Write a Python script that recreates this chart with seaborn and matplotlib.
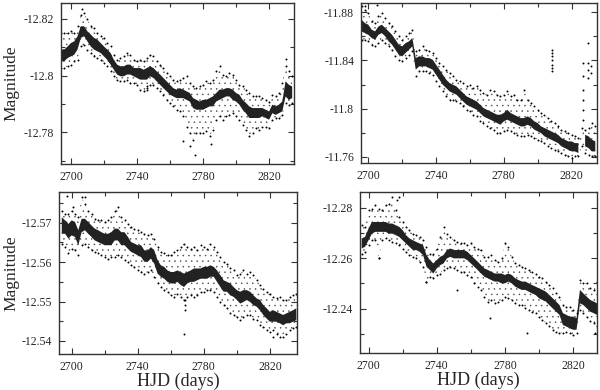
import numpy as np
import pandas as pd
import matplotlib
matplotlib.use("Agg")
import matplotlib.pyplot as plt
import seaborn as sns
from matplotlib.ticker import FixedLocator, MultipleLocator

# --- values (2-day sampling of the light curves) ---
# each panel: dense core band (top/bottom) and looser scatter envelope (top/bottom)

days_tl = list(range(2694, 2836, 2))
core_top_tl = [-12.8092, -12.8092, -12.8103, -12.8115, -12.8121, -12.8139, -12.8174, -12.8174, -12.8156, -12.8145,
               -12.8133, -12.8127, -12.8115, -12.8103, -12.8092, -12.8080, -12.8056, -12.8039, -12.8033, -12.8033,
               -12.8039, -12.8039, -12.8027, -12.8027, -12.8027, -12.8021, -12.8027, -12.8033, -12.8027, -12.8015,
               -12.8004, -12.7992, -12.7980, -12.7968, -12.7956, -12.7951, -12.7956, -12.7951, -12.7945, -12.7939,
               -12.7921, -12.7915, -12.7909, -12.7915, -12.7915, -12.7921, -12.7927, -12.7939, -12.7951, -12.7951,
               -12.7956, -12.7956, -12.7951, -12.7939, -12.7933, -12.7915, -12.7904, -12.7892, -12.7886, -12.7886,
               -12.7886, -12.7886, -12.7880, -12.7874, -12.7898, -12.7892, -12.7898, -12.7909, -12.7980, -12.7968,
               -12.7962]
core_bot_tl = [-12.8051, -12.8051, -12.8062, -12.8068, -12.8074, -12.8092, -12.8133, -12.8139, -12.8121, -12.8103,
               -12.8092, -12.8086, -12.8080, -12.8068, -12.8056, -12.8039, -12.8021, -12.8004, -12.7998, -12.7998,
               -12.8004, -12.8004, -12.7998, -12.7992, -12.7986, -12.7986, -12.7986, -12.7998, -12.7992, -12.7980,
               -12.7968, -12.7956, -12.7945, -12.7933, -12.7927, -12.7921, -12.7921, -12.7921, -12.7915, -12.7909,
               -12.7886, -12.7880, -12.7880, -12.7880, -12.7886, -12.7892, -12.7892, -12.7909, -12.7915, -12.7921,
               -12.7927, -12.7927, -12.7915, -12.7909, -12.7898, -12.7880, -12.7868, -12.7851, -12.7851, -12.7851,
               -12.7851, -12.7857, -12.7851, -12.7845, -12.7868, -12.7862, -12.7868, -12.7874, -12.7927, -12.7915,
               -12.7921]
halo_top_tl = [-12.8151, -12.8151, -12.8151, -12.8156, -12.8151, -12.8174, -12.8215, -12.8221, -12.8198, -12.8174,
               -12.8168, -12.8151, -12.8139, -12.8133, -12.8115, -12.8103, -12.8074, -12.8056, -12.8062, -12.8068,
               -12.8080, -12.8074, -12.8056, -12.8051, -12.8056, -12.8051, -12.8062, -12.8074, -12.8068, -12.8051,
               -12.8039, -12.8027, -12.8009, -12.7998, -12.7986, -12.7980, -12.7986, -12.7992, -12.7998, -12.7974,
               -12.7962, -12.7956, -12.7962, -12.7968, -12.7980, -12.7974, -12.7986, -12.8015, -12.8033, -12.8004,
               -12.7998, -12.8009, -12.8004, -12.7986, -12.7968, -12.7962, -12.7951, -12.7939, -12.7927, -12.7927,
               -12.7927, -12.7921, -12.7915, -12.7909, -12.7933, -12.7927, -12.7939, -12.7974, -12.8033, -12.8015,
               -12.7998]
halo_bot_tl = [-12.8027, -12.8027, -12.8033, -12.8039, -12.8051, -12.8056, -12.8103, -12.8109, -12.8092, -12.8080,
               -12.8068, -12.8062, -12.8056, -12.8045, -12.8033, -12.8015, -12.7998, -12.7986, -12.7980, -12.7980,
               -12.7986, -12.7974, -12.7974, -12.7968, -12.7951, -12.7945, -12.7956, -12.7968, -12.7968, -12.7956,
               -12.7945, -12.7933, -12.7915, -12.7904, -12.7892, -12.7880, -12.7874, -12.7857, -12.7821, -12.7798,
               -12.7774, -12.7798, -12.7798, -12.7798, -12.7804, -12.7786, -12.7809, -12.7845, -12.7857, -12.7845,
               -12.7857, -12.7862, -12.7868, -12.7857, -12.7845, -12.7827, -12.7809, -12.7786, -12.7798, -12.7815,
               -12.7809, -12.7821, -12.7821, -12.7815, -12.7845, -12.7851, -12.7851, -12.7862, -12.7904, -12.7898,
               -12.7904]
out_day_tl = [2707.0, 2772.0, 2775.0, 2785.0, 2768.0, 2830.5, 2745.8, 2745.8]
out_mag_tl = [-12.8235, -12.7754, -12.7721, -12.7760, -12.7770, -12.8060, -12.7962, -12.7951]

days_tr = list(range(2696, 2836, 2))
core_top_tr = [-11.8737, -11.8709, -11.8695, -11.8654, -11.8640, -11.8681, -11.8695, -11.8668, -11.8640, -11.8612,
               -11.8571, -11.8530, -11.8516, -11.8543, -11.8557, -11.8585, -11.8419, -11.8433, -11.8433, -11.8419,
               -11.8419, -11.8405, -11.8364, -11.8323, -11.8281, -11.8240, -11.8212, -11.8198, -11.8185, -11.8157,
               -11.8129, -11.8102, -11.8088, -11.8074, -11.8060, -11.8033, -11.8005, -11.7991, -11.7978, -11.7964,
               -11.7950, -11.7950, -11.7964, -11.7991, -11.7964, -11.7950, -11.7936, -11.7922, -11.7922, -11.7936,
               -11.7922, -11.7895, -11.7881, -11.7853, -11.7840, -11.7826, -11.7812, -11.7798, -11.7784, -11.7757,
               -11.7743, -11.7729, -11.7729, -11.7715, -11.7715, np.nan, -11.7784, -11.7771, -11.7743, -11.7729]
core_bot_tr = [-11.8640, -11.8626, -11.8612, -11.8585, -11.8571, -11.8612, -11.8626, -11.8599, -11.8557, -11.8530,
               -11.8488, -11.8447, -11.8433, -11.8461, -11.8488, -11.8516, -11.8323, -11.8350, -11.8350, -11.8350,
               -11.8336, -11.8323, -11.8281, -11.8240, -11.8198, -11.8171, -11.8143, -11.8129, -11.8116, -11.8088,
               -11.8060, -11.8033, -11.8019, -11.8005, -11.7991, -11.7964, -11.7936, -11.7922, -11.7909, -11.7895,
               -11.7881, -11.7867, -11.7895, -11.7909, -11.7895, -11.7881, -11.7867, -11.7853, -11.7853, -11.7867,
               -11.7853, -11.7826, -11.7812, -11.7798, -11.7771, -11.7757, -11.7743, -11.7729, -11.7715, -11.7688,
               -11.7674, -11.7660, -11.7646, -11.7646, -11.7633, np.nan, -11.7688, -11.7674, -11.7646, -11.7646]
halo_top_tr = [-11.8847, -11.8819, -11.8792, -11.8723, -11.8709, -11.8764, -11.8792, -11.8750, -11.8709, -11.8681,
               -11.8640, -11.8599, -11.8571, -11.8599, -11.8626, -11.8654, -11.8474, -11.8488, -11.8516, -11.8488,
               -11.8474, -11.8461, -11.8419, -11.8378, -11.8350, -11.8323, -11.8295, -11.8267, -11.8240, -11.8226,
               -11.8212, -11.8185, -11.8198, -11.8171, -11.8185, -11.8157, -11.8129, -11.8116, -11.8157, -11.8143,
               -11.8116, -11.8102, -11.8116, -11.8143, -11.8102, -11.8116, -11.8074, -11.8074, -11.8157, -11.8074,
               -11.8047, -11.8019, -11.7991, -11.7964, -11.7950, -11.7922, -11.7895, -11.7881, -11.7853, -11.7826,
               -11.7812, -11.7798, -11.7784, -11.7771, -11.7757, -11.7840, -11.7826, -11.7840, -11.7881, -11.7853]
halo_bot_tr = [-11.8571, -11.8571, -11.8557, -11.8530, -11.8516, -11.8543, -11.8571, -11.8543, -11.8516, -11.8488,
               -11.8433, -11.8405, -11.8392, -11.8419, -11.8447, -11.8474, -11.8267, -11.8309, -11.8309, -11.8309,
               -11.8295, -11.8281, -11.8226, -11.8185, -11.8143, -11.8102, -11.8074, -11.8074, -11.8060, -11.8047,
               -11.8019, -11.7991, -11.7978, -11.7950, -11.7936, -11.7895, -11.7881, -11.7853, -11.7840, -11.7826,
               -11.7798, -11.7798, -11.7812, -11.7826, -11.7812, -11.7798, -11.7784, -11.7771, -11.7771, -11.7784,
               -11.7771, -11.7757, -11.7743, -11.7729, -11.7715, -11.7688, -11.7674, -11.7660, -11.7646, -11.7633,
               -11.7619, -11.7605, -11.7591, -11.7605, -11.7605, -11.7688, -11.7633, -11.7619, -11.7605, -11.7605]
out_day_tr = [2808.5, 2808.5, 2808.5, 2808.5, 2808.5, 2808.5, 2808.5, 2829.6, 2705.0, 2698.0,
              2826.9, 2826.9, 2826.9, 2826.9, 2826.9, 2826.9, 2829.5, 2829.5, 2829.5, 2831.5, 2831.5]
out_mag_tr = [-11.8488, -11.8461, -11.8433, -11.8405, -11.8364, -11.8336, -11.8309, -11.8543, -11.8860, -11.8850,
              -11.8378, -11.8267, -11.8157, -11.8074, -11.7991, -11.7909, -11.8378, -11.8323, -11.8254, -11.8350,
              -11.8295]

days_bl = list(range(2694, 2838, 2))
core_top_bl = [-12.5714, -12.5706, -12.5697, -12.5706, -12.5702, -12.5681, -12.5710, -12.5710, -12.5702, -12.5693,
               -12.5685, -12.5681, -12.5676, -12.5672, -12.5672, -12.5676, -12.5685, -12.5685, -12.5676, -12.5676,
               -12.5664, -12.5651, -12.5647, -12.5643, -12.5643, -12.5630, -12.5630, -12.5638, -12.5630, -12.5605,
               -12.5592, -12.5588, -12.5579, -12.5575, -12.5575, -12.5579, -12.5575, -12.5571, -12.5575, -12.5579,
               -12.5584, -12.5584, -12.5584, -12.5588, -12.5588, -12.5592, -12.5588, -12.5579, -12.5567, -12.5554,
               -12.5550, -12.5546, -12.5537, -12.5529, -12.5525, -12.5529, -12.5529, -12.5525, -12.5516, -12.5508,
               -12.5504, -12.5491, -12.5483, -12.5474, -12.5478, -12.5474, -12.5470, -12.5466, -12.5470, -12.5474,
               -12.5478, -12.5483]
core_bot_bl = [-12.5672, -12.5672, -12.5660, -12.5668, -12.5664, -12.5643, -12.5676, -12.5681, -12.5672, -12.5664,
               -12.5655, -12.5651, -12.5647, -12.5643, -12.5643, -12.5643, -12.5655, -12.5655, -12.5643, -12.5643,
               -12.5634, -12.5626, -12.5622, -12.5617, -12.5613, -12.5601, -12.5601, -12.5609, -12.5596, -12.5571,
               -12.5563, -12.5558, -12.5550, -12.5546, -12.5546, -12.5550, -12.5542, -12.5537, -12.5546, -12.5550,
               -12.5550, -12.5554, -12.5558, -12.5558, -12.5558, -12.5563, -12.5563, -12.5550, -12.5537, -12.5525,
               -12.5525, -12.5516, -12.5512, -12.5504, -12.5495, -12.5499, -12.5504, -12.5499, -12.5491, -12.5487,
               -12.5478, -12.5466, -12.5457, -12.5449, -12.5449, -12.5449, -12.5445, -12.5440, -12.5445, -12.5445,
               -12.5449, -12.5453]
halo_top_bl = [-12.5731, -12.5723, -12.5723, -12.5731, -12.5723, -12.5714, -12.5765, -12.5748, -12.5731, -12.5723,
               -12.5710, -12.5706, -12.5706, -12.5702, -12.5706, -12.5714, -12.5731, -12.5740, -12.5714, -12.5706,
               -12.5697, -12.5689, -12.5685, -12.5681, -12.5676, -12.5672, -12.5668, -12.5672, -12.5660, -12.5638,
               -12.5626, -12.5622, -12.5617, -12.5617, -12.5626, -12.5630, -12.5638, -12.5647, -12.5638, -12.5634,
               -12.5638, -12.5630, -12.5643, -12.5638, -12.5634, -12.5647, -12.5638, -12.5626, -12.5613, -12.5601,
               -12.5596, -12.5584, -12.5579, -12.5567, -12.5571, -12.5579, -12.5571, -12.5575, -12.5567, -12.5554,
               -12.5542, -12.5533, -12.5525, -12.5520, -12.5512, -12.5508, -12.5512, -12.5504, -12.5504, -12.5512,
               -12.5516, -12.5520]
halo_bot_bl = [-12.5647, -12.5638, -12.5622, -12.5634, -12.5630, -12.5617, -12.5643, -12.5647, -12.5638, -12.5630,
               -12.5626, -12.5622, -12.5617, -12.5613, -12.5609, -12.5613, -12.5613, -12.5617, -12.5613, -12.5605,
               -12.5601, -12.5592, -12.5588, -12.5579, -12.5575, -12.5571, -12.5575, -12.5579, -12.5563, -12.5546,
               -12.5537, -12.5529, -12.5525, -12.5516, -12.5512, -12.5520, -12.5512, -12.5504, -12.5512, -12.5516,
               -12.5512, -12.5516, -12.5525, -12.5525, -12.5529, -12.5529, -12.5525, -12.5512, -12.5499, -12.5491,
               -12.5483, -12.5470, -12.5466, -12.5461, -12.5453, -12.5461, -12.5466, -12.5466, -12.5457, -12.5453,
               -12.5440, -12.5436, -12.5428, -12.5423, -12.5428, -12.5419, -12.5411, -12.5411, -12.5419, -12.5428,
               -12.5432, -12.5436]
out_day_bl = [2768.8, 2768.8, 2768.8, 2767.7, 2697.0, 2708.0, 2821.6, 2701.0]
out_mag_bl = [-12.5504, -12.5491, -12.5478, -12.5419, -12.5769, -12.5765, -12.5411, -12.5740]

days_br = list(range(2696, 2836, 2))
core_top_br = [-12.2678, -12.2684, -12.2717, -12.2743, -12.2743, -12.2743, -12.2743, -12.2743, -12.2737, -12.2737,
               -12.2730, -12.2724, -12.2711, -12.2691, -12.2678, -12.2671, -12.2664, -12.2658, -12.2651, -12.2612,
               -12.2592, -12.2579, -12.2592, -12.2605, -12.2612, -12.2632, -12.2638, -12.2632, -12.2632, -12.2632,
               -12.2632, -12.2625, -12.2612, -12.2599, -12.2586, -12.2572, -12.2559, -12.2553, -12.2546, -12.2539,
               -12.2539, -12.2539, -12.2533, -12.2539, -12.2533, -12.2520, -12.2513, -12.2507, -12.2507, -12.2500,
               -12.2493, -12.2487, -12.2480, -12.2474, -12.2467, -12.2454, -12.2441, -12.2428, -12.2414, -12.2382,
               -12.2375, -12.2368, -12.2368, -12.2362, -12.2474, -12.2460, -12.2447, -12.2434, -12.2428, -12.2421]
core_bot_br = [-12.2638, -12.2645, -12.2671, -12.2697, -12.2704, -12.2704, -12.2704, -12.2704, -12.2697, -12.2697,
               -12.2691, -12.2684, -12.2671, -12.2658, -12.2645, -12.2632, -12.2632, -12.2625, -12.2612, -12.2566,
               -12.2553, -12.2539, -12.2559, -12.2572, -12.2579, -12.2599, -12.2605, -12.2599, -12.2599, -12.2599,
               -12.2599, -12.2592, -12.2579, -12.2566, -12.2553, -12.2539, -12.2526, -12.2520, -12.2513, -12.2507,
               -12.2507, -12.2500, -12.2500, -12.2507, -12.2500, -12.2487, -12.2480, -12.2474, -12.2474, -12.2467,
               -12.2460, -12.2454, -12.2441, -12.2434, -12.2428, -12.2414, -12.2401, -12.2388, -12.2375, -12.2335,
               -12.2329, -12.2322, -12.2316, -12.2316, -12.2421, -12.2414, -12.2401, -12.2388, -12.2382, -12.2375]
halo_top_br = [-12.2730, -12.2724, -12.2789, -12.2796, -12.2809, -12.2796, -12.2789, -12.2809, -12.2816, -12.2842,
               -12.2789, -12.2763, -12.2743, -12.2724, -12.2711, -12.2697, -12.2691, -12.2684, -12.2671, -12.2645,
               -12.2618, -12.2618, -12.2638, -12.2684, -12.2724, -12.2697, -12.2684, -12.2671, -12.2664, -12.2658,
               -12.2658, -12.2651, -12.2658, -12.2645, -12.2638, -12.2632, -12.2605, -12.2605, -12.2612, -12.2592,
               -12.2586, -12.2599, -12.2658, -12.2645, -12.2605, -12.2579, -12.2572, -12.2566, -12.2559, -12.2553,
               -12.2546, -12.2539, -12.2526, -12.2520, -12.2507, -12.2493, -12.2480, -12.2460, -12.2447, -12.2414,
               -12.2408, -12.2408, -12.2395, -12.2382, -12.2513, -12.2500, -12.2500, -12.2480, -12.2474, -12.2507]
halo_bot_br = [-12.2618, -12.2625, -12.2651, -12.2671, -12.2671, -12.2599, -12.2671, -12.2678, -12.2671, -12.2664,
               -12.2658, -12.2651, -12.2638, -12.2625, -12.2612, -12.2605, -12.2599, -12.2586, -12.2566, -12.2507,
               -12.2526, -12.2520, -12.2533, -12.2539, -12.2553, -12.2559, -12.2566, -12.2559, -12.2553, -12.2546,
               -12.2546, -12.2533, -12.2526, -12.2500, -12.2487, -12.2474, -12.2447, -12.2428, -12.2434, -12.2421,
               -12.2428, -12.2434, -12.2447, -12.2441, -12.2434, -12.2421, -12.2414, -12.2414, -12.2401, -12.2395,
               -12.2388, -12.2382, -12.2368, -12.2355, -12.2342, -12.2329, -12.2316, -12.2309, -12.2303, -12.2303,
               -12.2309, -12.2303, -12.2296, -12.2303, -12.2395, -12.2382, -12.2368, -12.2349, -12.2342, -12.2329]
out_day_br = [2717.8, 2716.6, 2751.9, 2771.5, 2793.0, 2833.0, 2734.0, 2706.0]
out_mag_br = [-12.2842, -12.2829, -12.2474, -12.2362, -12.2303, -12.2303, -12.2507, -12.2599]

# tick values / labels
x_ticks = [2700, 2740, 2780, 2820]
x_labels = ["2700", "2740", "2780", "2820"]
y_ticks_tl = [-12.82, -12.80, -12.78]
y_labels_tl = ["-12.82", "-12.8", "-12.78"]
y_ticks_tr = [-11.88, -11.84, -11.80, -11.76]
y_labels_tr = ["-11.88", "-11.84", "-11.8", "-11.76"]
y_ticks_bl = [-12.57, -12.56, -12.55, -12.54]
y_labels_bl = ["-12.57", "-12.56", "-12.55", "-12.54"]
y_ticks_br = [-12.28, -12.26, -12.24]
y_labels_br = ["-12.28", "-12.26", "-12.24"]

sns.set_style("ticks")
plt.rcParams["font.family"] = ["Liberation Serif", "DejaVu Serif"]
plt.rcParams["axes.unicode_minus"] = False
plt.rcParams["hatch.linewidth"] = 0.3

fig = plt.figure(figsize=(6, 3.9), dpi=100)

panels = [
    dict(rect=[0.1017, 0.5795, 0.388, 0.4128], days=days_tl, ct=core_top_tl, cb=core_bot_tl, ht=halo_top_tl,
         hb=halo_bot_tl, od=out_day_tl, om=out_mag_tl, xlim=(2694, 2835), ylim=(-12.7689, -12.8256),
         yt=y_ticks_tl, yl=y_labels_tl, ymin=0.01, ylab=-0.180, xlab=False),
    dict(rect=[0.6017, 0.582, 0.3933, 0.41], days=days_tr, ct=core_top_tr, cb=core_bot_tr, ht=halo_top_tr,
         hb=halo_bot_tr, od=out_day_tr, om=out_mag_tr, xlim=(2695.7, 2835), ylim=(-11.755, -11.8874),
         yt=y_ticks_tr, yl=y_labels_tr, ymin=0.02, ylab=None, xlab=False),
    dict(rect=[0.0983, 0.0923, 0.3967, 0.4154], days=days_bl, ct=core_top_bl, cb=core_bot_bl, ht=halo_top_bl,
         hb=halo_bot_bl, od=out_day_bl, om=out_mag_bl, xlim=(2692.3, 2836.4), ylim=(-12.5367, -12.5778),
         yt=y_ticks_bl, yl=y_labels_bl, ymin=0.005, ylab=-0.168, xlab=True),
    dict(rect=[0.60, 0.0949, 0.395, 0.4128], days=days_br, ct=core_top_br, cb=core_bot_br, ht=halo_top_br,
         hb=halo_bot_br, od=out_day_br, om=out_mag_br, xlim=(2695, 2834), ylim=(-12.2224, -12.2862),
         yt=y_ticks_br, yl=y_labels_br, ymin=0.01, ylab=None, xlab=True),
]

for p in panels:
    ax = fig.add_axes(p["rect"])
    df = pd.DataFrame({"day": p["days"], "core_top": p["ct"], "core_bot": p["cb"],
                       "halo_top": p["ht"], "halo_bot": p["hb"]})
    # loose scatter as a sparse dot texture, dense core as a dark band
    ax.fill_between(df["day"], df["halo_top"], df["halo_bot"], facecolor="none",
                    edgecolor="#444444", hatch="...", linewidth=0)
    ax.fill_between(df["day"], df["core_top"], df["core_bot"], facecolor="#222222",
                    edgecolor="none", linewidth=0)
    ends = pd.concat([
        pd.DataFrame({"day": df["day"], "mag": df["halo_top"]}),
        pd.DataFrame({"day": df["day"], "mag": df["halo_bot"]}),
        pd.DataFrame({"day": p["od"], "mag": p["om"]}),
    ])
    sns.scatterplot(data=ends, x="day", y="mag", s=2, color="black", linewidth=0, ax=ax)

    ax.set_xlim(*p["xlim"])
    ax.set_ylim(*p["ylim"])
    ax.xaxis.set_major_locator(FixedLocator(x_ticks))
    ax.set_xticklabels(x_labels)
    ax.xaxis.set_minor_locator(MultipleLocator(20))
    ax.yaxis.set_major_locator(FixedLocator(p["yt"]))
    ax.set_yticklabels(p["yl"])
    ax.yaxis.set_minor_locator(MultipleLocator(p["ymin"]))
    ax.tick_params(which="both", direction="in", top=True, right=True, width=0.8, color="#333333")
    ax.tick_params(which="major", length=4, labelsize=8.5, pad=5)
    ax.tick_params(which="minor", length=3)
    for s in ax.spines.values():
        s.set_linewidth(1.0)
        s.set_color("#333333")
    if p["xlab"]:
        ax.set_xlabel("HJD (days)", fontsize=13, labelpad=0)
    else:
        ax.set_xlabel("")
    if p["ylab"] is not None:
        ax.set_ylabel("Magnitude", fontsize=12.5)
        ax.yaxis.set_label_coords(p["ylab"], 0.5)
    else:
        ax.set_ylabel("")

fig.savefig("out.png", dpi=100)
